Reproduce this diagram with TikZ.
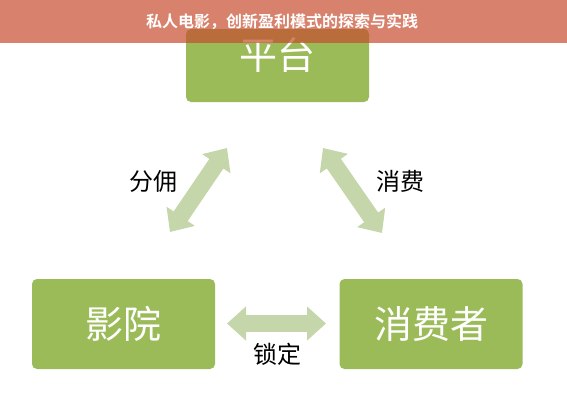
\documentclass[tikz,border=0pt]{standalone}
\usepackage{fontspec}
\setmainfont{Noto Sans CJK SC}[BoldFont={Noto Sans CJK SC Bold}]
\usetikzlibrary{arrows.meta}

\definecolor{boxgreen}{RGB}{155,187,89}
\definecolor{arrgreen}{RGB}{196,214,170}
\definecolor{hdrred}{RGB}{199,76,45}

\tikzset{
  box/.style={fill=boxgreen, rounded corners=5pt, text=white, inner sep=0pt,
    minimum width=183pt, minimum height=90pt, font=\fontsize{38}{40}\selectfont},
  rel/.style={font=\fontsize{24}{26}\selectfont},
  bigarr/.style={arrgreen, line width=17pt,
    {Triangle[width=33pt,length=19pt]}-{Triangle[width=33pt,length=19pt]}}
}

\begin{document}
\begin{tikzpicture}[x=1pt,y=-1pt]
        \useasboundingbox (0,0) rectangle (567,400);

        \node[box, minimum height=73pt, text height=40.7pt, text depth=32.3pt] (PT) at (277.5,65.5) {平台};
        \node[box] (YY) at (123.5,324) {影院};
        \node[box] (XFZ) at (431,324) {消费者};

        \coordinate (FY1) at (170,232);
        \coordinate (FY2) at (227,148);
        \coordinate (XF1) at (323,148);
        \coordinate (XF2) at (382,233);
        \coordinate (SD1) at (227,323.5);
        \coordinate (SD2) at (326,323.5);
        \draw[bigarr] (FY1) -- (FY2);
        \draw[bigarr] (XF1) -- (XF2);
        \draw[bigarr] (SD1) -- (SD2);

        \node[rel] (FY) at (153,181) {分佣};
        \node[rel] (XF) at (400,181) {消费};
        \node[rel] (SD) at (277.5,354.5) {锁定};

        % title bar
        \fill[hdrred, opacity=0.7] (0,0) rectangle (567,43);
        \node[text=white, font=\bfseries\fontsize{16}{18}\selectfont] (T) at (282,21.5) {私人电影，创新盈利模式的探索与实践};
      \end{tikzpicture}
\end{document}
